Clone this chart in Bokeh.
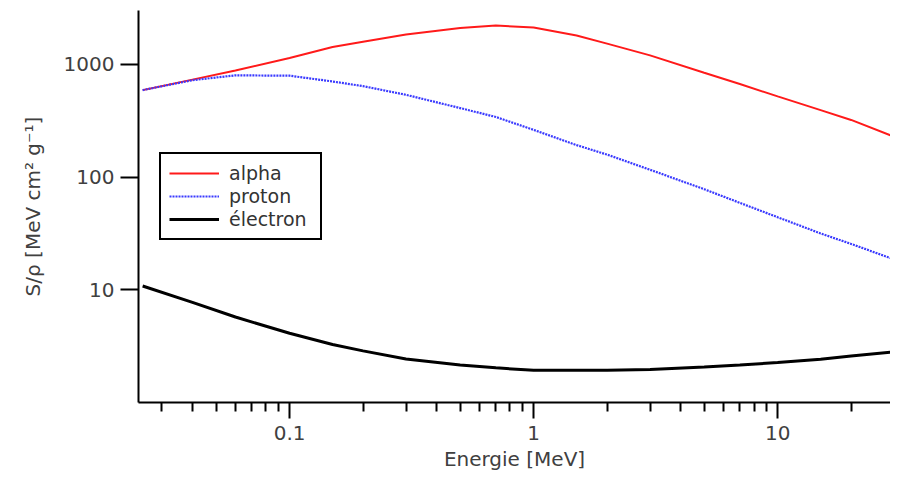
from bokeh.plotting import figure
from bokeh.models import FixedTicker, Legend, LegendItem, Range1d
from bokeh.embed import file_html
from bokeh.resources import INLINE

# ---- data ----
energy_mev = [0.025, 0.04, 0.06, 0.1, 0.15, 0.2, 0.3, 0.5, 0.7, 1.0,
              1.5, 2.0, 3.0, 5.0, 7.0, 10.0, 15.0, 20.0, 30.0, 34.0]
alpha = [590, 731, 880, 1136, 1423, 1585, 1838, 2100, 2206, 2120,
         1798, 1525, 1200, 841, 668, 519, 392, 321, 228, 206]
proton = [590, 723, 798, 792, 704, 640, 536, 409, 341, 262,
          192, 158, 116, 78, 59, 44, 31.6, 25.5, 18.6, 16.9]
electron = [10.8, 7.74, 5.73, 4.11, 3.27, 2.87, 2.43, 2.15, 2.03, 1.93,
            1.93, 1.93, 1.96, 2.06, 2.15, 2.26, 2.42, 2.58, 2.82, 2.90]

series_names = ["alpha", "proton", "électron"]

x_tick_values = [0.1, 1, 10]
x_tick_labels = ["0.1", "1", "10"]
y_tick_values = [10, 100, 1000]
y_tick_labels = ["10", "100", "1000"]

x_label = "Energie [MeV]"
y_label = "S/ρ [MeV cm² g⁻¹]"

# ---- figure ----
FONT = "DejaVu Sans"
TEXT_COLOR = "#404040"

p = figure(width=890, height=477,
           x_axis_type="log", y_axis_type="log",
           x_range=Range1d(0.02404, 29.0), y_range=Range1d(1, 3000),
           output_backend="svg", toolbar_location=None,
           min_border_left=138, min_border_right=0,
           min_border_top=10, min_border_bottom=75)
p.outline_line_color = None
p.background_fill_color = "white"
p.xgrid.visible = False
p.ygrid.visible = False

r_alpha = p.line(energy_mev, alpha, line_color="#ff1a1a", line_width=2)
r_proton = p.line(energy_mev, proton, line_color="#3a3aff", line_width=2.2,
                  line_dash="2 1")
r_electron = p.line(energy_mev, electron, line_color="black", line_width=3)

minor_x = [k * 10.0 ** d for d in (-2, -1, 0, 1) for k in range(2, 10)]
p.xaxis.ticker = FixedTicker(ticks=x_tick_values, minor_ticks=minor_x)
p.yaxis.ticker = FixedTicker(ticks=y_tick_values, minor_ticks=[])
p.xaxis.major_label_overrides = dict(zip(x_tick_values, x_tick_labels))
p.yaxis.major_label_overrides = dict(zip(y_tick_values, y_tick_labels))

for ax in (p.xaxis[0], p.yaxis[0]):
    ax.axis_line_color = "black"
    ax.axis_line_width = 2
    ax.major_tick_line_color = "black"
    ax.major_tick_line_width = 2
    ax.minor_tick_line_color = "black"
    ax.minor_tick_line_width = 2
    ax.major_tick_in = 0
    ax.minor_tick_in = 0
    ax.major_label_text_font = FONT
    ax.major_label_text_font_size = "20px"
    ax.major_label_text_color = TEXT_COLOR
    ax.axis_label_text_font = FONT
    ax.axis_label_text_font_size = "20px"
    ax.axis_label_text_font_style = "normal"
    ax.axis_label_text_color = TEXT_COLOR

p.xaxis.axis_label = x_label
p.yaxis.axis_label = y_label

p.xaxis.major_tick_out = 16
p.xaxis.minor_tick_out = 9
p.xaxis.major_label_standoff = 7
p.xaxis.axis_label_standoff = 4

p.yaxis.major_tick_out = 18
p.yaxis.minor_tick_out = 0
p.yaxis.major_label_standoff = 6
p.yaxis.axis_label_standoff = 16

legend = Legend(
    items=[LegendItem(label=series_names[0], renderers=[r_alpha]),
           LegendItem(label=series_names[1], renderers=[r_proton]),
           LegendItem(label=series_names[2], renderers=[r_electron])],
    location=(21, 162), margin=0,
    border_line_color="black", border_line_width=2, border_line_alpha=1.0,
    background_fill_color="white", background_fill_alpha=1.0,
    padding=8, spacing=1, glyph_width=50, glyph_height=20,
    label_standoff=10, label_width=83,
    label_text_font=FONT, label_text_font_size="19px",
    label_text_color="#333333")
p.add_layout(legend)

open("out.html", "w").write(file_html(p, INLINE))
